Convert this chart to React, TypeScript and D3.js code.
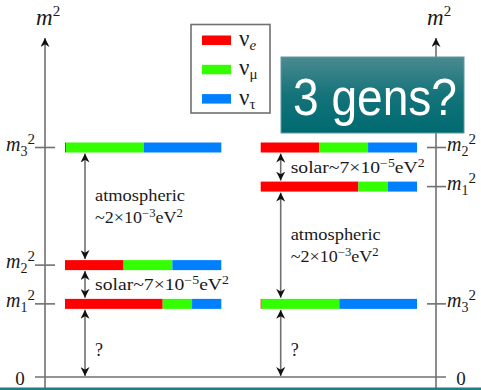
import React from 'react'
import * as d3 from 'd3'

// mass levels (m^2, arbitrary plot units) for each hierarchy
const hierarchies = ['normal', 'inverted']
const levelLabels = ['1', '2', '3']
const normalLevels = [21.7, 33.2, 68.1]
const invertedLevels = [56.5, 68.1, 21.7]

// flavour content of m1, m2, m3
const flavours = ['e', 'μ', 'τ']
const flavourColors = ['#ff0000', '#33ff00', '#0080ff']
const nuE = [0.625, 0.375, 0.006]
const nuMu = [0.188, 0.312, 0.497]
const nuTau = [0.187, 0.313, 0.497]

// gaps: [from level idx, to level idx (-1 = zero), label lines]
const normalGaps = [
  { from: 2, to: 1, lines: ['atmospheric', '~2×10|-3|eV|2'] },
  { from: 1, to: 0, lines: ['solar~7×10|-5|eV|2'] },
  { from: 0, to: -1, lines: ['?'] },
]
const invertedGaps = [
  { from: 1, to: 0, lines: ['solar~7×10|-5|eV|2'] },
  { from: 0, to: 2, lines: ['atmospheric', '~2×10|-3|eV|2'] },
  { from: 2, to: -1, lines: ['?'] },
]

const W = 481, H = 390
const serif = '"Liberation Serif", "Times New Roman", serif'
const gray = '#707070'

// text with alternating normal/superscript parts split by '|'
const SupText = ({ x, y, s, len, size = 17 }: any) => {
  const parts = s.split('|')
  return (
    <text x={x} y={y} fontFamily={serif} fontSize={size} fill="#1a1a1a"
      textLength={len} lengthAdjust="spacingAndGlyphs">
      {parts.map((p: string, i: number) => i % 2 === 0
        ? <tspan key={i} dy={i === 0 ? 0 : 6}>{p}</tspan>
        : <tspan key={i} dy={-6} fontSize={12}>{p.replace('-', '−')}</tspan>)}
    </text>
  )
}

const MLabel = ({ x, y, sub, anchor }: any) => (
  <text x={x} y={y} fontFamily={serif} fill="#1a1a1a" textAnchor={anchor}>
    <tspan fontStyle="italic" fontSize={20}>m</tspan>
    <tspan fontSize={14} dy={5}>{sub}</tspan>
    <tspan fontSize={15} dy={-12}>2</tspan>
  </text>
)

const App = () => {
  const y = d3.scaleLinear().domain([0, 100]).range([377, 40])
  const xb = d3.scaleBand().domain(hierarchies).range([65, 417]).paddingInner(0.2013)
  const bw = xb.bandwidth()
  const barH = 10
  const axisX = [45, 436]
  const fracs = levelLabels.map((_, i) => [nuE[i], nuMu[i], nuTau[i]])

  const drawHierarchy = (h: string, levels: number[], gaps: any[]) => {
    const x0 = xb(h) as number
    const fx = d3.scaleLinear().domain([0, 1]).range([x0, x0 + bw])
    const ax = x0 + 20
    return (
      <g key={h}>
        {levels.map((lv, i) => {
          const cum = d3.cumsum(fracs[i])
          return fracs[i].map((f, k) => (
            <rect key={i + '-' + k} x={fx(cum[k] - f)} y={y(lv) - barH / 2}
              width={fx(cum[k]) - fx(cum[k] - f)} height={barH} fill={flavourColors[k]} />
          ))
        })}
        {gaps.map((g, i) => {
          const yTop = y(levels[g.from]) + barH / 2
          const yBot = g.to < 0 ? y(0) : y(levels[g.to]) - barH / 2
          const mid = (yTop + yBot) / 2
          return (
            <g key={i}>
              <line x1={ax} x2={ax} y1={yTop + 1} y2={yBot - 1} stroke={gray} strokeWidth={1.6}
                markerStart="url(#ahead)" markerEnd="url(#ahead)" />
              {g.lines.length === 2 ? (
                <>
                  <SupText x={ax + 10} y={mid - 5} s={g.lines[0]} len={90} />
                  <SupText x={ax + 10} y={mid + 17} s={g.lines[1]} len={88} />
                </>
              ) : g.lines[0] === '?' ? (
                <SupText x={ax + 10} y={mid + 13} s="?" size={18} />
              ) : (
                <SupText x={ax + 10} y={mid + 5.5} s={g.lines[0]} len={134} />
              )}
            </g>
          )
        })}
      </g>
    )
  }

  return (
    <svg width={W} height={H} style={{ position: 'absolute', left: 0, top: 0, background: '#fff' }}>
      <defs>
        <marker id="ahead" viewBox="0 0 10 10" refX="10" refY="5" markerWidth="9" markerHeight="9"
          markerUnits="userSpaceOnUse" orient="auto-start-reverse">
          <path d="M0,0 L10,5 L0,10 L3,5 Z" fill="#111" />
        </marker>
        <marker id="axhead" viewBox="0 0 10 10" refX="10" refY="5" markerWidth="9" markerHeight="9"
          markerUnits="userSpaceOnUse" orient="auto">
          <path d="M0,0 L10,5 L0,10 L3,5 Z" fill="#111" />
        </marker>
        <linearGradient id="teal" x1="0" y1="0" x2="0" y2="1">
          <stop offset="0" stopColor="#4b8a90" />
          <stop offset="0.5" stopColor="#14737a" />
          <stop offset="1" stopColor="#006a71" />
        </linearGradient>
      </defs>

      {/* axes */}
      {axisX.map((ax) => (
        <line key={ax} x1={ax} x2={ax} y1={H} y2={38} stroke={gray} strokeWidth={1.6} markerEnd="url(#axhead)" />
      ))}
      <line x1={35} x2={446} y1={y(0)} y2={y(0)} stroke={gray} strokeWidth={1.6} />
      <text x={20} y={385} fontFamily={serif} fontSize={19} textAnchor="middle" fill="#1a1a1a">0</text>
      <text x={461} y={385} fontFamily={serif} fontSize={19} textAnchor="middle" fill="#1a1a1a">0</text>
      {axisX.map((ax) => (
        <text key={'t' + ax} x={ax - 9} y={25} fontFamily={serif} fill="#1a1a1a">
          <tspan fontStyle="italic" fontSize={23}>m</tspan>
          <tspan fontSize={15} dy={-9}>2</tspan>
        </text>
      ))}

      {/* level ticks and labels */}
      {normalLevels.map((lv, i) => (
        <g key={'nl' + i}>
          <line x1={35} x2={55} y1={y(lv)} y2={y(lv)} stroke={gray} strokeWidth={1.6} />
          <MLabel x={35} y={y(lv) + 3} sub={levelLabels[i]} anchor="end" />
        </g>
      ))}
      {invertedLevels.map((lv, i) => (
        <g key={'il' + i}>
          <line x1={427} x2={446} y1={y(lv)} y2={y(lv)} stroke={gray} strokeWidth={1.6} />
          <MLabel x={447} y={y(lv) + 3} sub={levelLabels[i]} anchor="start" />
        </g>
      ))}

      {drawHierarchy('normal', normalLevels, normalGaps)}
      {drawHierarchy('inverted', invertedLevels, invertedGaps)}

      {/* legend */}
      <rect x={191} y={24.5} width={79} height={88.5} fill="#fff" stroke={gray} strokeWidth={1.6} />
      {flavours.map((f, i) => (
        <g key={f}>
          <rect x={202} y={35.5 + i * 29.3} width={29} height={9.5} fill={flavourColors[i]} />
          <text x={239} y={46 + i * 29.3} fontFamily={serif} fontSize={23} fill="#1a1a1a">
            ν<tspan fontSize={15} dy={4} fontStyle={f === 'e' ? 'italic' : 'normal'}>{f}</tspan>
          </text>
        </g>
      ))}

      {/* overlay box */}
      <rect x={281} y={57} width={183} height={76} fill="url(#teal)" stroke="#5d9aa0" strokeWidth={1} />
      <text x={293} y={115} fontFamily='"Liberation Sans", Arial, sans-serif' fontSize={52} fill="#fff"
        textLength={164} lengthAdjust="spacingAndGlyphs">3 gens?</text>

      {/* bottom rule */}
      <rect x={0} y={387.5} width={W} height={2.5} fill="#1f7d84" />
    </svg>
  )
}

export default App
